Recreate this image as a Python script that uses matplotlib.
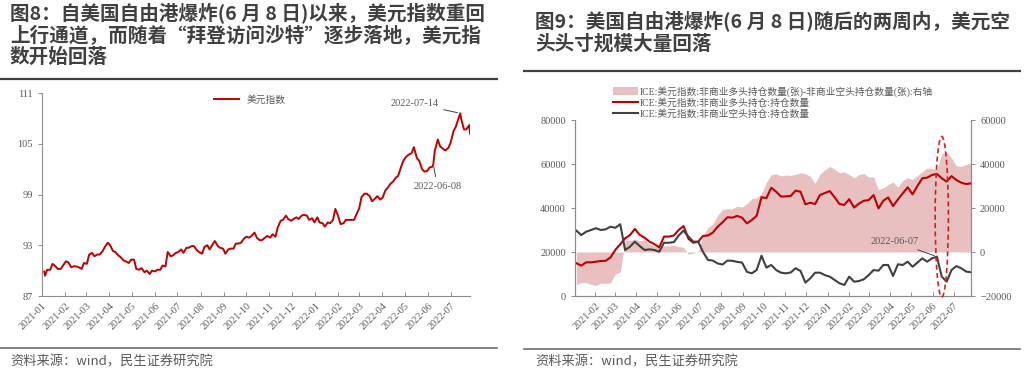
import matplotlib
matplotlib.use('Agg')
import matplotlib.pyplot as plt
import matplotlib.dates as mdates
from matplotlib.lines import Line2D
from matplotlib.patches import Ellipse, Patch
import pandas as pd
import numpy as np

plt.rcParams['font.family'] = ['Liberation Serif', 'Noto Sans CJK SC']

# ---- 图8: 美元指数 (Tue / Fri readings) ----
dxy_values = [
    89.4, 90.1, 90.1, 90.8, 90.5, 90.2, 90.2, 90.6,           # 2021-01
    91.1, 91.0, 90.4, 90.5, 90.5, 90.4, 90.2, 90.9,           # 2021-02
    90.8, 91.9, 92.1, 91.7, 91.9, 91.9, 92.3, 92.8, 93.3,     # 2021-03
    93.0, 92.3, 92.2, 91.8, 91.6, 91.2, 91.1, 90.9, 91.3,     # 2021-04
    91.3, 90.2, 90.1, 90.3, 89.8, 90.0, 89.6, 90.0,           # 2021-05
    89.9, 90.1, 90.1, 90.6, 90.5, 92.2, 91.7, 91.8, 92.1,     # 2021-06
    92.2, 92.5, 92.1, 92.7, 92.7, 92.9, 92.9, 92.4, 92.2,     # 2021-07
    92.0, 92.8, 93.0, 92.5, 93.1, 93.5, 92.9, 92.7, 92.6,     # 2021-08
    92.0, 92.5, 92.6, 92.6, 93.2, 93.2, 93.3, 93.8,           # 2021-09
    94.0, 93.9, 94.1, 94.5, 93.9, 93.6, 93.6, 93.9, 94.1,     # 2021-10
    93.9, 94.3, 94.0, 95.1, 95.9, 96.0, 96.5, 96.1, 95.9,     # 2021-11
    96.1, 96.3, 96.1, 96.5, 96.6, 96.5, 96.0, 96.2, 95.7,     # 2021-12
    96.3, 95.7, 95.6, 95.2, 95.7, 95.6, 96.0, 97.3,           # 2022-01
    96.4, 95.5, 95.6, 96.0, 96.0, 96.0, 96.0, 96.6,           # 2022-02
    97.4, 98.7, 99.1, 99.1, 98.8, 98.2, 98.5, 98.8, 98.4,     # 2022-03
    98.6, 99.5, 99.8, 100.3, 100.5, 101.0, 101.2, 102.3, 103.0,  # 2022-04
    103.5, 103.7, 103.9, 104.6, 103.3, 103.0, 102.0, 101.7, 101.8,  # 2022-05
    102.2, 102.3, 104.2, 105.5, 104.7, 104.4, 104.2, 104.5,   # 2022-06
    105.1, 106.5, 107.0, 108.1, 108.0, 106.7, 106.7, 107.2,   # 2022-07
]
dxy_dates = pd.date_range('2021-01-05', '2022-07-26', freq='W-TUE').union(
    pd.date_range('2021-01-08', '2022-07-22', freq='W-FRI'))
key_dates = ['2021-01-04', '2022-06-08', '2022-07-14', '2022-07-27']
key_values = [89.9, 102.6, 108.6, 106.2]

dxy = pd.Series(dxy_values, index=dxy_dates)
dxy = pd.concat([dxy, pd.Series(key_values, index=pd.to_datetime(key_dates))]).sort_index()

# ---- 图9: ICE 美元指数 非商业持仓 (weekly, 千张) ----
cot_dates = pd.date_range('2021-01-05', periods=82, freq='7D')
long_k = [14.9, 13.8, 15.3, 15.3, 15.6, 15.9, 16.0, 17.5, 21.0, 23.5,
          26.2, 27.7, 30.5, 27.8, 26.5, 24.7, 23.6, 22.1, 27.0, 27.0,
          27.5, 30.0, 31.8, 26.0, 24.2, 24.7, 27.3, 27.5, 28.8, 31.5,
          33.5, 35.8, 35.6, 36.4, 35.6, 33.0, 34.5, 36.5, 44.9, 44.5,
          49.2, 47.4, 45.2, 45.3, 45.5, 47.9, 47.4, 41.7, 42.4, 41.8,
          45.9, 46.8, 47.7, 44.9, 41.8, 41.4, 44.0, 40.2, 42.0, 43.3,
          43.6, 45.9, 39.8, 43.3, 44.8, 40.9, 43.9, 46.7, 49.4, 46.2,
          50.0, 53.5, 53.8, 55.0, 55.5, 53.5, 52.0, 54.5, 52.7, 51.5,
          50.9, 51.2]
short_k = [29.7, 27.7, 29.2, 30.0, 30.8, 30.0, 30.3, 31.5, 31.0, 32.6,
           20.9, 22.4, 24.7, 22.7, 20.9, 21.2, 20.9, 20.1, 24.2, 24.2,
           24.5, 27.5, 29.7, 27.0, 24.7, 24.7, 20.0, 16.4, 16.1, 14.8,
           14.3, 16.1, 16.0, 15.5, 15.2, 11.0, 10.3, 11.8, 18.3, 12.9,
           14.1, 11.8, 10.6, 10.3, 10.7, 12.6, 11.4, 6.1, 8.0, 10.6,
           10.6, 9.5, 8.8, 7.3, 5.8, 5.0, 8.8, 6.5, 6.8, 7.6,
           9.5, 11.8, 11.5, 14.1, 14.1, 9.1, 14.4, 14.1, 15.6, 13.3,
           15.2, 17.1, 15.6, 17.1, 17.9, 8.8, 6.5, 11.8, 13.6, 12.6,
           11.1, 10.8]
net_k = [-14.8, -13.9, -13.9, -14.7, -15.2, -14.1, -14.3, -14.0, -10.0, -9.1,
         5.3, 5.3, 5.8, 5.1, 5.6, 3.5, 2.7, 2.0, 2.8, 2.8,
         3.0, 2.5, 2.1, -1.0, -0.5, 0.0, 7.3, 11.1, 12.7, 16.7,
         19.2, 19.7, 19.6, 20.9, 20.4, 22.0, 24.2, 24.7, 26.6, 31.6,
         35.1, 35.6, 34.6, 35.0, 34.8, 35.3, 36.0, 35.6, 34.4, 31.2,
         35.3, 37.3, 38.9, 37.6, 36.0, 36.4, 35.2, 33.7, 35.2, 35.7,
         34.1, 34.1, 28.3, 29.2, 30.7, 31.8, 29.5, 32.6, 33.8, 32.9,
         34.8, 36.4, 38.2, 37.9, 37.6, 44.7, 45.5, 42.7, 39.1, 38.9,
         39.8, 40.4]
long_pos = np.array(long_k) * 1000
short_pos = np.array(short_k) * 1000
net_pos = np.array(net_k) * 1000

red = '#C00000'
dark = '#404040'
pink = '#E8C0C0'
tick_col = '#595959'
spine_col = '#8C8C8C'

fig = plt.figure(figsize=(10.24, 3.74), dpi=100)
W, H = 1024.0, 374.0


def fx(px):
    return px / W


def fy(py):
    return 1 - py / H


def style_axis(ax):
    for s in ax.spines.values():
        s.set_color(spine_col)
        s.set_linewidth(0.8)
    ax.tick_params(colors=spine_col, labelcolor=tick_col, labelsize=7.5, length=3, width=0.7)
    ax.xaxis.set_major_locator(mdates.MonthLocator())
    ax.xaxis.set_major_formatter(mdates.DateFormatter('%Y-%m'))
    ax.tick_params(axis='x', direction='in', labelsize=7.3)
    for lab in ax.get_xticklabels():
        lab.set_rotation(45)
        lab.set_ha('right')
        lab.set_rotation_mode('anchor')


# ---------- left panel ----------
ax1 = fig.add_axes([fx(42), fy(296), fx(470 - 42), (296 - 93) / H])
ax1.plot(dxy.index, dxy.values, color=red, lw=1.4, label='美元指数')
ax1.set_ylim(87, 111)
ax1.set_yticks([87, 93, 99, 105, 111])
ax1.set_xlim(pd.Timestamp('2021-01-01'), pd.Timestamp('2022-07-27'))
ax1.spines['top'].set_visible(False)
ax1.spines['right'].set_visible(False)
style_axis(ax1)
ax1.legend(loc='upper center', bbox_to_anchor=(fx(250), fy(86)), bbox_transform=fig.transFigure,
           frameon=False, fontsize=7, handlelength=2.6, labelcolor=tick_col)

ax1.annotate('2022-07-14', xy=(pd.Timestamp('2022-07-14'), 108.6), xytext=(-22, 10),
             textcoords='offset pixels', ha='right', va='center', fontsize=7.5, color=tick_col,
             arrowprops=dict(arrowstyle='-', color=dark, lw=0.7))
ax1.annotate('2022-06-08', xy=(pd.Timestamp('2022-06-08'), 102.6), xytext=(4, -18),
             textcoords='offset pixels', ha='center', va='top', fontsize=7.5, color=tick_col,
             arrowprops=dict(arrowstyle='-', color=dark, lw=0.7))

# ---------- right panel ----------
ax2 = fig.add_axes([fx(575), fy(296), fx(971 - 575), (296 - 120) / H])
ax3 = ax2.twinx()
ax2.set_zorder(ax3.get_zorder() + 1)
ax2.patch.set_visible(False)

ax3.fill_between(cot_dates, 0, net_pos, color=pink, lw=0)
ax3.set_ylim(-20000, 60000)
ax3.set_yticks([-20000, 0, 20000, 40000, 60000])

ax2.plot(cot_dates, long_pos, color=red, lw=1.5)
ax2.plot(cot_dates, short_pos, color=dark, lw=1.5)
ax2.set_ylim(0, 80000)
ax2.set_yticks([0, 20000, 40000, 60000, 80000])
ax2.set_xlim(pd.Timestamp('2021-01-03'), pd.Timestamp('2022-07-26'))
for a in (ax2, ax3):
    a.spines['top'].set_visible(False)
    style_axis(a)
ax3.tick_params(axis='y', colors=spine_col, labelcolor=tick_col, labelsize=7.5)

ax2.annotate('2022-06-07', xy=(cot_dates[74], short_pos[74]), xytext=(-18, 15),
             textcoords='offset pixels', ha='right', va='center', fontsize=7.5, color=tick_col,
             arrowprops=dict(arrowstyle='-', color=dark, lw=0.7))

ell = Ellipse((mdates.date2num(pd.Timestamp('2022-06-14')), 36000), 19, 73000,
              fill=False, ls=(0, (3, 2)), ec='#D02020', lw=1.2, clip_on=False, zorder=5)
ax2.add_patch(ell)

handles = [Patch(facecolor=pink, edgecolor='none'),
           Line2D([], [], color=red, lw=1.5),
           Line2D([], [], color=dark, lw=1.5)]
labels = ['ICE:美元指数:非商业多头持仓数量(张)-非商业空头持仓数量(张):右轴',
          'ICE:美元指数:非商业多头持仓:持仓数量',
          'ICE:美元指数:非商业空头持仓:持仓数量']
fig.legend(handles, labels, loc='upper left', bbox_to_anchor=(fx(608), fy(81)),
           frameon=False, fontsize=7, handlelength=2.6, handleheight=0.9,
           labelspacing=0.15, handletextpad=0.2, borderpad=0, labelcolor=tick_col)

# ---------- titles, rules, sources ----------
title_font = ['Noto Sans CJK SC', 'DejaVu Sans']
fig.text(fx(10), fy(3), '图8：自美国自由港爆炸(6 月 8 日)以来，美元指数重回\n'
         '上行通道，而随着“拜登访问沙特”逐步落地，美元指\n数开始回落',
         family=title_font, fontsize=14.1, fontweight='bold', color=dark,
         va='top', ha='left', linespacing=1.1)
fig.text(fx(535), fy(11), '图9：美国自由港爆炸(6 月 8 日)随后的两周内，美元空\n头头寸规模大量回落',
         family=title_font, fontsize=14.1, fontweight='bold', color=dark,
         va='top', ha='left', linespacing=1.15)

fig.add_artist(Line2D([0, fx(497)], [fy(79), fy(79)], color=dark, lw=1.6))
fig.add_artist(Line2D([fx(524), fx(1020)], [fy(71), fy(71)], color=dark, lw=1.6))
fig.add_artist(Line2D([0, fx(497)], [fy(348), fy(348)], color='#6E6E6E', lw=1.2))
fig.add_artist(Line2D([fx(524), fx(1020)], [fy(349), fy(349)], color='#6E6E6E', lw=1.2))

fig.text(fx(10), fy(362), '资料来源：wind，民生证券研究院', family=title_font,
         fontsize=9.5, color=tick_col, va='center', ha='left')
fig.text(fx(535), fy(362), '资料来源：wind，民生证券研究院', family=title_font,
         fontsize=9.5, color=tick_col, va='center', ha='left')

fig.savefig('out.png', dpi=100)
